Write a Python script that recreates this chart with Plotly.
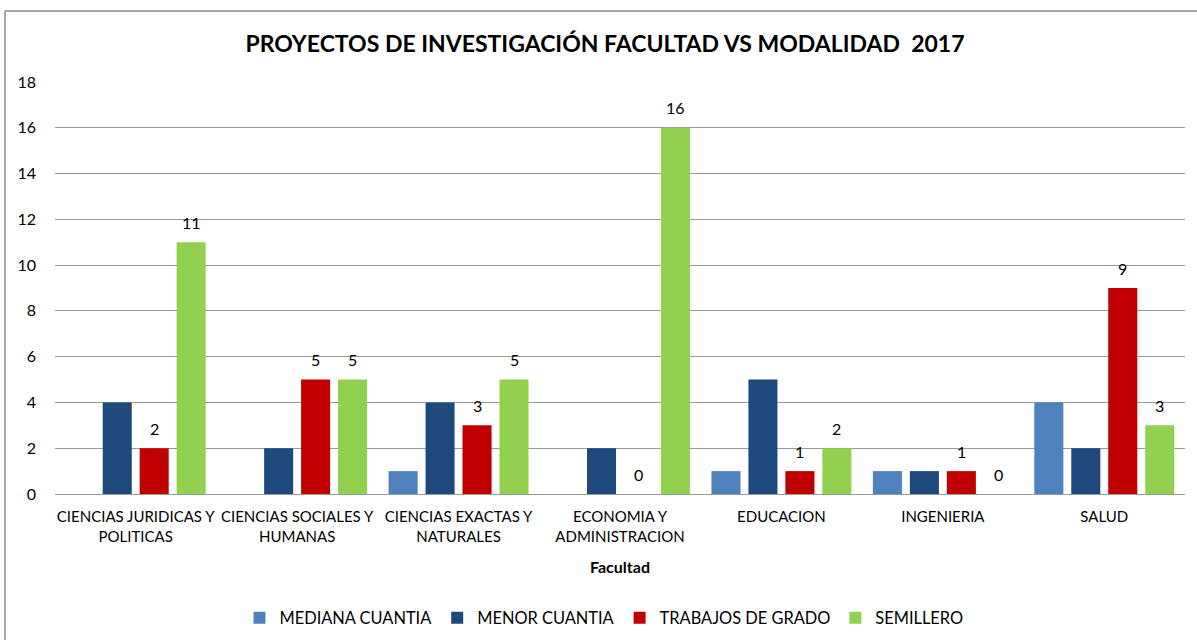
import plotly.graph_objects as go

categories = ["CIENCIAS JURIDICAS Y<br>POLITICAS", "CIENCIAS SOCIALES Y<br>HUMANAS",
              "CIENCIAS EXACTAS Y<br>NATURALES", "ECONOMIA Y<br>ADMINISTRACION",
              "EDUCACION", "INGENIERIA", "SALUD"]
mediana = [0, 0, 1, 0, 1, 1, 4]
menor = [4, 2, 4, 2, 5, 1, 2]
trabajos = [2, 5, 3, 0, 1, 1, 9]
semillero = [11, 5, 5, 16, 2, 0, 3]

series = [
    ("MEDIANA CUANTIA", mediana, "#4F81BD", False),
    ("MENOR CUANTIA", menor, "#1F497D", False),
    ("TRABAJOS DE GRADO", trabajos, "#C00000", True),
    ("SEMILLERO", semillero, "#92D050", True),
]

FONT = "Lato"
BAR_W = 0.18
STEP = 0.229

fig = go.Figure()
annotations = []
for i, (name, vals, color, labels) in enumerate(series):
    center = (i - 1.5) * STEP
    fig.add_trace(go.Bar(
        x=categories, y=vals, name=name,
        marker=dict(color=color, line=dict(width=0)),
        width=BAR_W, offset=center - BAR_W / 2,
    ))
    if labels:
        for j, v in enumerate(vals):
            annotations.append(dict(
                x=j + center, y=v, xref="x", yref="y", text=str(v), showarrow=False,
                yanchor="middle", yshift=20,
                font=dict(family=FONT, size=16, color="#000000")))

W, H = 1197, 640
l, r, t, b = 55, 12, 82, 146
pw, ph = W - l - r, H - t - b

annotations.append(dict(text="<b>Facultad</b>", xref="paper", yref="paper",
                        x=(620 - l) / pw, y=(494 - 566) / ph, showarrow=False,
                        yanchor="middle", font=dict(family=FONT, size=16, color="#000000")))

fig.update_layout(
    width=W, height=H,
    margin=dict(l=l, r=r, t=t, b=b, autoexpand=False),
    paper_bgcolor="white", plot_bgcolor="white",
    barmode="group",
    title=dict(text="<b>PROYECTOS DE INVESTIGACIÓN FACULTAD VS MODALIDAD  2017</b>",
               x=605 / W, xref="container", xanchor="center",
               y=1 - 44 / H, yref="container", yanchor="middle",
               font=dict(family=FONT, size=23, color="#000000")),
    font=dict(family=FONT, size=14, color="#000000"),
    showlegend=True,
    legend=dict(orientation="h", x=(604 - l) / pw, xanchor="center",
                y=(494 - 618) / ph, yanchor="middle",
                font=dict(family=FONT, size=16.4, color="#000000"), traceorder="normal",
                itemwidth=30),
    xaxis=dict(type="category", showline=True, linecolor="#9A9A9A", linewidth=1, ticks="",
               range=[-0.5, 6.5], automargin=False, ticklabelstandoff=9,
               tickfont=dict(family=FONT, size=15)),
    yaxis=dict(range=[0, 18], dtick=2, showgrid=True, gridcolor="#9A9A9A", gridwidth=1,
               zeroline=False, showline=False, ticks="", ticklabelstandoff=18,
               automargin=False, tickfont=dict(family=FONT, size=16)),
    annotations=annotations,
    shapes=[
        dict(type="line", xref="paper", yref="paper",
             x0=(5 - l) / pw, x1=(W + 5 - l) / pw, y0=(494 - 11) / ph, y1=(494 - 11) / ph,
             line=dict(color="#8C8C8C", width=1.5)),
        dict(type="line", xref="paper", yref="paper",
             x0=(5 - l) / pw, x1=(5 - l) / pw, y0=(494 - 11) / ph, y1=(494 - H - 5) / ph,
             line=dict(color="#8C8C8C", width=1.5)),
    ],
)

fig.write_html("out.html", config={"displayModeBar": False},
               post_script="document.body.style.margin='0';document.body.style.overflow='hidden';")
